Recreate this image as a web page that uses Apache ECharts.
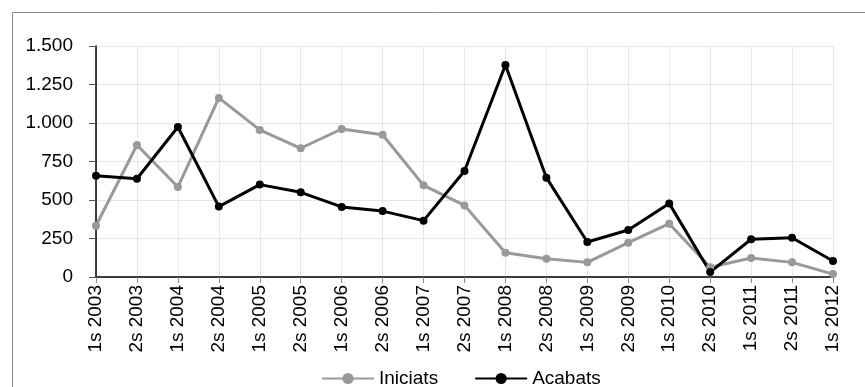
<!DOCTYPE html>
<html>
<head>
<meta charset="utf-8">
<script src="https://cdn.jsdelivr.net/npm/echarts@6/dist/echarts.min.js"></script>
<style>
html,body{margin:0;padding:0;background:#fff;}
#c{width:865px;height:387px;}
</style>
</head>
<body>
<div id="c"></div>
<script>
const categories = ['1s 2003','2s 2003','1s 2004','2s 2004','1s 2005','2s 2005','1s 2006','2s 2006','1s 2007','2s 2007','1s 2008','2s 2008','1s 2009','2s 2009','1s 2010','2s 2010','1s 2011','2s 2011','1s 2012'];
const iniciats = [333, 857, 584, 1163, 955, 836, 961, 924, 595, 465, 158, 119, 95, 223, 346, 63, 123, 95, 19];
const acabats = [658, 638, 974, 457, 600, 550, 455, 428, 366, 688, 1377, 645, 227, 305, 478, 32, 245, 255, 104];
const yTicks = [0, 250, 500, 750, 1000, 1250, 1500];

function hasFont(name) {
  const c = document.createElement('canvas').getContext('2d');
  const s = 'mmmmmmwwwwlli1s 2003';
  c.font = '40px monospace'; const a = c.measureText(s).width;
  c.font = '40px "' + name + '", monospace'; const b = c.measureText(s).width;
  return Math.abs(a - b) > 0.5;
}
let FONT, FS;
if (hasFont('Liberation Sans Narrow')) { FONT = '"Liberation Sans Narrow"'; FS = 22; }
else { FONT = '"Liberation Sans", Arial, sans-serif'; FS = 19; }

const fmt = v => String(v).replace(/\B(?=(\d{3})+(?!\d))/g, '.');

const chart = echarts.init(document.getElementById('c'), null, {renderer: 'canvas'});
chart.setOption({
  animation: false,
  backgroundColor: '#fff',
  graphic: [{
    type: 'rect',
    shape: {x: 12.5, y: 12.5, width: 900, height: 400},
    style: {fill: 'none', stroke: '#8a8a8a', lineWidth: 1},
    silent: true
  }],
  grid: {left: 96, right: 32, top: 46, bottom: 110, containLabel: false},
  legend: {
    left: 316, top: 364,
    itemWidth: 52, itemHeight: 14, itemGap: 36,
    textStyle: {fontFamily: FONT, fontSize: FS, color: '#000'},
    data: ['Iniciats', 'Acabats']
  },
  xAxis: {
    type: 'category',
    data: categories,
    boundaryGap: false,
    axisLine: {lineStyle: {color: '#000', width: 1.5}},
    axisTick: {show: true, length: 6, lineStyle: {color: '#888'}},
    splitLine: {show: true, lineStyle: {color: '#e6e6e6', width: 1}},
    axisLabel: {rotate: 90, margin: 8, fontFamily: FONT, fontSize: FS, color: '#000', interval: 0}
  },
  yAxis: {
    type: 'value',
    min: 0, max: 1500, interval: 250,
    axisLine: {show: true, lineStyle: {color: '#000', width: 1.5}},
    axisTick: {show: true, length: 7, lineStyle: {color: '#555'}},
    splitLine: {show: true, lineStyle: {color: '#e6e6e6', width: 1}},
    axisLabel: {margin: 23, fontFamily: FONT, fontSize: FS, color: '#000', formatter: v => fmt(v)}
  },
  series: [
    {
      name: 'Iniciats', type: 'line', data: iniciats,
      symbol: 'circle', symbolSize: 8,
      lineStyle: {color: '#999999', width: 3},
      itemStyle: {color: '#999999'}
    },
    {
      name: 'Acabats', type: 'line', data: acabats,
      symbol: 'circle', symbolSize: 8,
      lineStyle: {color: '#000000', width: 3},
      itemStyle: {color: '#000000'}
    }
  ]
});
</script>
</body>
</html>
